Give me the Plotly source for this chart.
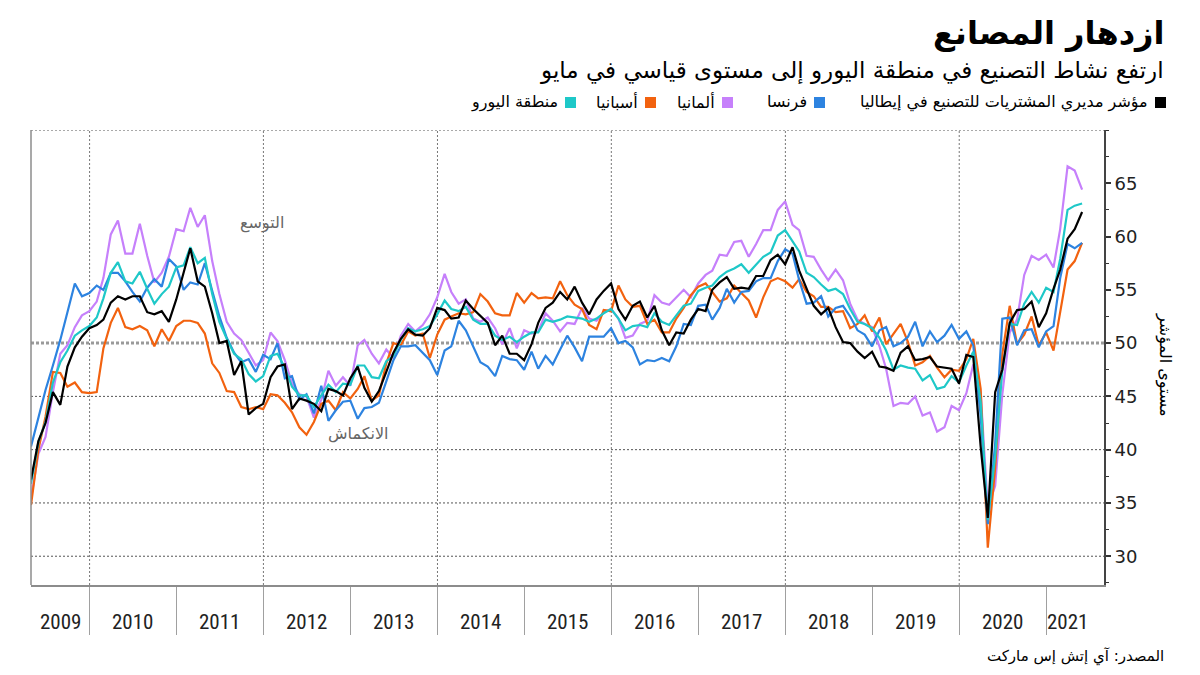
import plotly.graph_objects as go
import pandas as pd

# ---------------- data (monthly, Apr 2009 - May 2021) ----------------
months = pd.date_range("2009-04-30", periods=146, freq="ME")

italy = [
    37.2, 40.8, 42.5, 45.4, 44.2, 47.8, 49.6, 50.6, 51.4,
    51.7, 52.2, 53.8, 54.4, 54.1, 54.4, 54.4, 52.9, 52.7, 53.0, 52.0, 54.1,
    56.6, 58.9, 55.8, 55.3, 52.8, 50.0, 50.2, 47.0, 48.3, 43.3, 43.9, 44.3,
    46.8, 47.8, 48.0, 43.8, 44.8, 44.6, 44.3, 43.6, 45.7, 45.5, 45.1, 46.7,
    47.8, 45.8, 44.5, 45.5, 47.3, 49.1, 50.4, 51.3, 50.8, 50.7, 51.4, 53.3,
    53.1, 52.3, 52.4, 54.0, 53.2, 52.6, 51.9, 49.8, 50.7, 49.0, 49.0, 48.4,
    49.9, 51.9, 53.3, 53.8, 54.8, 54.1, 55.3, 53.8, 52.7, 54.1, 54.9, 55.6,
    53.2, 52.2, 53.5, 53.9, 52.4, 53.5, 51.2, 49.8, 51.0, 50.9, 52.2, 53.2,
    53.0, 55.0, 55.7, 56.2, 55.1, 55.2, 55.1, 56.3, 56.3, 57.8, 58.3, 57.4,
    59.0, 56.8, 55.1, 53.5, 52.7, 53.3, 51.5, 50.1, 50.0, 49.2, 48.6, 49.2,
    47.8, 47.7, 47.4, 49.1, 49.7, 48.4, 48.5, 48.7, 47.8, 47.7, 47.6, 46.2,
    48.9, 48.7, 40.3, 33.6, 45.4, 47.5, 51.9, 53.1, 53.2, 53.9, 51.5, 52.8,
    55.1, 56.9, 59.8, 60.7, 62.3,
]

france = [
    40.3, 42.9, 45.6, 47.9, 50.3, 52.9, 55.6, 54.4, 54.7,
    55.4, 55.0, 56.6, 56.6, 55.8, 54.8, 53.9, 55.2, 56.0, 55.3, 57.9, 57.2,
    55.0, 55.7, 55.5, 57.5, 54.9, 52.5, 50.5, 49.1, 48.2, 48.5, 47.3, 48.9,
    48.5, 50.0, 46.7, 46.9, 44.7, 45.2, 43.4, 46.0, 42.7, 43.7, 44.5, 44.6,
    42.9, 43.9, 44.0, 44.4, 46.4, 48.4, 49.7, 49.7, 49.8, 49.1, 48.4, 47.0,
    49.3, 49.7, 52.1, 51.2, 49.6, 48.2, 47.8, 46.9, 48.8, 48.5, 48.4, 47.5,
    49.2, 47.6, 48.8, 48.0, 49.4, 50.7, 49.6, 48.3, 50.6, 50.6, 50.6, 51.4,
    50.0, 50.2, 49.6, 48.0, 48.4, 48.3, 48.6, 48.3, 49.7, 51.8, 51.7, 53.5,
    53.6, 52.2, 53.3, 55.1, 53.8, 54.8, 54.9, 55.8, 56.1, 56.1, 57.7, 58.8,
    58.4, 55.9, 53.7, 53.8, 54.4, 52.5, 53.3, 53.5, 52.5, 51.2, 50.8, 49.7,
    51.2, 51.5, 49.7, 50.0, 50.6, 52.0, 49.7, 51.1, 50.1, 50.7, 51.7, 50.4,
    51.1, 49.8, 43.2, 33.0, 40.6, 52.3, 52.4, 49.8, 51.2, 51.3, 49.6, 51.1,
    51.6, 56.1, 59.3, 58.9, 59.4,
]

germany = [
    35.4, 39.6, 41.2, 45.4, 49.0, 49.8, 51.5, 52.6, 53.0,
    53.9, 56.1, 60.2, 61.5, 58.4, 58.4, 61.2, 58.2, 55.7, 56.6, 58.1, 60.7,
    60.5, 62.7, 60.9, 62.0, 57.7, 54.6, 52.0, 50.9, 50.3, 49.1, 47.9, 48.4,
    51.0, 50.2, 48.4, 46.2, 45.2, 45.0, 43.0, 44.7, 47.4, 46.0, 46.8, 46.0,
    49.8, 50.3, 49.0, 48.1, 49.4, 48.6, 50.7, 51.8, 51.1, 51.7, 52.7, 54.3,
    56.5, 54.8, 53.7, 54.1, 52.3, 52.0, 52.4, 51.4, 49.9, 51.4, 49.5, 51.2,
    50.9, 51.1, 52.8, 52.1, 51.1, 51.9, 51.8, 53.3, 52.3, 52.1, 52.9, 53.2,
    52.3, 50.5, 50.7, 51.8, 52.1, 54.5, 53.8, 53.6, 54.3, 55.0, 54.3, 55.6,
    56.4, 56.8, 58.3, 58.2, 59.5, 59.6, 58.1, 59.3, 60.6, 60.6, 62.5, 63.3,
    61.1, 60.6, 58.2, 58.1, 56.9, 55.9, 56.9, 55.9, 53.7, 52.2, 51.8, 51.5,
    49.7, 47.6, 44.1, 44.4, 44.3, 45.0, 43.2, 43.5, 41.7, 42.1, 44.1, 43.7,
    45.3, 48.0, 45.4, 34.5, 36.6, 45.2, 51.0, 52.2, 56.4, 58.2, 57.8, 58.3,
    57.1, 60.7, 66.6, 66.2, 64.4,
]

spain = [
    34.8, 40.0, 43.1, 47.3, 47.2, 45.9, 46.3, 45.4, 45.3,
    45.4, 49.5, 51.9, 53.3, 51.5, 51.3, 51.6, 51.2, 49.7, 51.3, 50.2, 51.6,
    52.1, 52.1, 51.9, 50.9, 48.1, 47.2, 45.5, 45.4, 44.0, 43.8, 44.0, 43.8,
    45.2, 45.1, 44.4, 43.5, 42.1, 41.4, 42.6, 44.3, 44.6, 43.7, 45.4, 44.8,
    45.7, 46.9, 44.6, 45.1, 48.1, 50.0, 49.8, 51.1, 50.7, 50.9, 48.6, 50.8,
    52.2, 52.5, 52.8, 52.7, 52.9, 54.6, 53.9, 52.8, 52.6, 52.6, 54.7, 53.8,
    54.7, 54.2, 54.3, 54.2, 55.8, 54.5, 53.6, 53.2, 51.7, 51.3, 53.1, 53.0,
    55.4, 54.1, 53.4, 53.5, 51.8, 52.2, 51.0, 51.0, 52.3, 53.3, 54.5, 55.3,
    55.6, 54.8, 53.9, 54.2, 55.4, 54.7, 54.0, 52.4, 54.3, 55.8, 56.1, 55.8,
    55.2, 56.0, 54.8, 54.4, 53.4, 53.4, 52.9, 53.0, 51.4, 51.8, 52.6, 51.1,
    52.4, 49.9, 50.9, 51.8, 50.1, 47.9, 48.2, 48.8, 47.7, 46.8, 47.5, 47.4,
    48.5, 50.4, 45.7, 30.8, 38.3, 49.0, 53.5, 49.9, 50.8, 52.5, 49.8, 51.0,
    49.3, 52.9, 56.9, 57.7, 59.4,
]

eurozone = [
    36.8, 40.7, 42.6, 46.3, 48.2, 49.3, 50.7, 51.2, 51.6,
    52.4, 54.2, 56.6, 57.6, 55.8, 55.6, 56.7, 55.1, 53.7, 54.6, 55.3, 57.1,
    57.3, 59.0, 57.5, 58.0, 54.6, 52.0, 50.4, 49.0, 48.5, 47.1, 46.4, 46.9,
    48.8, 49.0, 47.7, 45.9, 45.1, 45.1, 44.0, 45.1, 46.1, 45.4, 46.2, 46.1,
    47.9, 47.9, 46.8, 46.7, 48.3, 48.8, 50.3, 51.4, 51.1, 51.3, 51.6, 52.7,
    54.0, 53.2, 53.0, 53.4, 52.2, 51.8, 51.8, 50.7, 50.3, 50.6, 50.1, 50.6,
    51.0, 51.0, 52.2, 52.0, 52.2, 52.5, 52.4, 52.3, 52.0, 52.3, 52.8, 53.2,
    52.3, 51.2, 51.6, 51.7, 51.5, 52.8, 52.0, 51.7, 52.6, 53.5, 53.7, 54.9,
    55.2, 55.4, 56.2, 56.7, 57.0, 57.4, 56.6, 57.4, 58.1, 58.5, 60.1, 60.6,
    59.6, 58.6, 56.6, 56.2, 55.5, 54.9, 55.1, 54.6, 53.2, 52.0, 51.8, 51.4,
    50.5, 49.3, 47.5, 47.9, 47.7, 47.6, 46.5, 47.0, 45.7, 45.9, 46.9, 46.3,
    47.9, 49.2, 44.5, 33.4, 39.4, 47.4, 51.8, 51.7, 53.7, 54.8, 53.8, 55.2,
    54.8, 57.9, 62.5, 62.9, 63.1,
]

series_names = ["مؤشر مديري المشتريات للتصنيع في إيطاليا", "فرنسا", "ألمانيا", "أسبانيا", "منطقة اليورو"]
series_colors = ["#000000", "#2d83e0", "#c680fb", "#f2620f", "#1ec8c8"]
series_values = [italy, france, germany, spain, eurozone]

y_ticks = [30, 35, 40, 45, 50, 55, 60, 65]
grid_levels = [30, 35, 40, 45, 70]
years = list(range(2009, 2022))

for v in series_values:
    assert len(v) == len(months), len(v)

# ---------------- geometry helpers (layout only, page pixels) ----------------
BODY = 8                      # default page margin around the plot div
PL, PR, PT, PB = 31, 1104, 130, 585
W, H = 1200 - BODY, 675 - BODY


def px_x(px):
    return (px - PL) / (PR - PL)


def px_y(py):
    return (PB - py) / (PB - PT)


AR = "DejaVu Sans"

fig = go.Figure()

# draw order: purple, orange, blue, cyan, black on top
for idx in [2, 3, 1, 4, 0]:
    fig.add_trace(go.Scatter(
        x=months, y=series_values[idx], mode="lines",
        line=dict(color=series_colors[idx], width=2.2),
        name=series_names[idx], showlegend=False, hoverinfo="skip",
    ))

shapes = []
for g in grid_levels:
    shapes.append(dict(type="line", xref="paper", yref="y", x0=0, x1=1, y0=g, y1=g,
                       line=dict(color="#555555", width=1, dash="2px,2px"), layer="below"))
shapes.append(dict(type="line", xref="paper", yref="y", x0=0, x1=1, y0=50, y1=50,
                   line=dict(color="#9a9a9a", width=3, dash="3px,2px"), layer="below"))
for yr in range(2010, 2021, 2):
    shapes.append(dict(type="line", xref="x", yref="paper", x0=f"{yr}-01-01", x1=f"{yr}-01-01",
                       y0=0, y1=1, line=dict(color="#777777", width=1, dash="2px,2px"), layer="below"))
shapes.append(dict(type="line", xref="paper", yref="paper", x0=0, x1=0, y0=0, y1=1,
                   line=dict(color="#8c8c8c", width=1.5)))

annotations = []
annotations.append(dict(text="<b>ازدهار المصانع</b>", xref="paper", yref="paper",
                        x=px_x(1166), y=px_y(33), xanchor="right", yanchor="middle",
                        showarrow=False, font=dict(family=AR, size=32, color="#000")))
annotations.append(dict(text="ارتفع نشاط التصنيع في منطقة اليورو إلى مستوى قياسي في مايو",
                        xref="paper", yref="paper", x=px_x(1166), y=px_y(70),
                        xanchor="right", yanchor="middle", showarrow=False,
                        font=dict(family=AR, size=23, color="#000")))
legend_right_px = [1166, 825, 733, 656, 576]
for name, color, rpx in zip(series_names, series_colors, legend_right_px):
    shapes.append(dict(type="rect", xref="paper", yref="paper",
                       x0=px_x(rpx - 11), x1=px_x(rpx), y0=px_y(108), y1=px_y(97),
                       fillcolor=color, line=dict(width=0)))
    annotations.append(dict(text=name, xref="paper", yref="paper", x=px_x(rpx - 16), y=px_y(102),
                            xanchor="right", yanchor="middle", showarrow=False,
                            font=dict(family=AR, size=16, color="#000")))
year_label_dates = ["2009-08-31"] + [f"{y}-07-01" for y in range(2010, 2021)] + ["2021-04-01"]
for yr, d in zip(years, year_label_dates):
    annotations.append(dict(text=str(yr), xref="x", yref="paper", x=d, y=px_y(622),
                            xanchor="center", yanchor="middle", showarrow=False,
                            font=dict(family="Liberation Sans Narrow, Roboto Condensed, Liberation Sans",
                                      size=21, color="#222")))
annotations.append(dict(text="التوسع", xref="x", yref="y", x="2011-12-26", y=61.3,
                        showarrow=False, font=dict(family=AR, size=16, color="#666")))
annotations.append(dict(text="الانكماش", xref="x", yref="y", x="2013-02-02", y=41.5,
                        showarrow=False, font=dict(family=AR, size=16, color="#666")))
annotations.append(dict(text="مستوى المؤشر", xref="paper", yref="paper", x=px_x(1165), y=px_y(365),
                        xanchor="center", yanchor="middle", textangle=90, showarrow=False,
                        font=dict(family=AR, size=16, color="#000")))
annotations.append(dict(text="المصدر: آي إتش إس ماركت", xref="paper", yref="paper",
                        x=px_x(1166), y=px_y(656), xanchor="right", yanchor="middle",
                        showarrow=False, font=dict(family=AR, size=15, color="#000")))

fig.update_layout(
    width=W, height=H,
    margin=dict(l=PL - BODY, r=(W + BODY) - PR, t=PT - BODY, b=(H + BODY) - PB, autoexpand=False),
    paper_bgcolor="white", plot_bgcolor="white",
    showlegend=False,
    shapes=shapes, annotations=annotations,
    xaxis=dict(type="date", range=["2009-04-30", "2021-08-31"], showgrid=False, zeroline=False,
               showline=True, linecolor="#8c8c8c", linewidth=1.5,
               ticks="outside", ticklen=48, tickwidth=1, tickcolor="#a0a0a0",
               tickvals=[f"{y}-01-01" for y in range(2010, 2022)], showticklabels=False,
               fixedrange=True),
    yaxis=dict(side="right", range=[27.3, 70], tickvals=y_ticks, ticktext=[str(t) for t in y_ticks],
               showgrid=False, zeroline=False, showline=True, linecolor="#444", linewidth=2,
               ticks="outside", ticklen=5, tickwidth=2, tickcolor="#333",
               tickfont=dict(family="DejaVu Sans", size=18, color="#222"),
               minor=dict(tickvals=[27.5 + 5 * i for i in range(9)] + [70], ticks="outside",
                          ticklen=3, tickwidth=1, tickcolor="#333"),
               fixedrange=True),
)

fig.write_html("out.html")
